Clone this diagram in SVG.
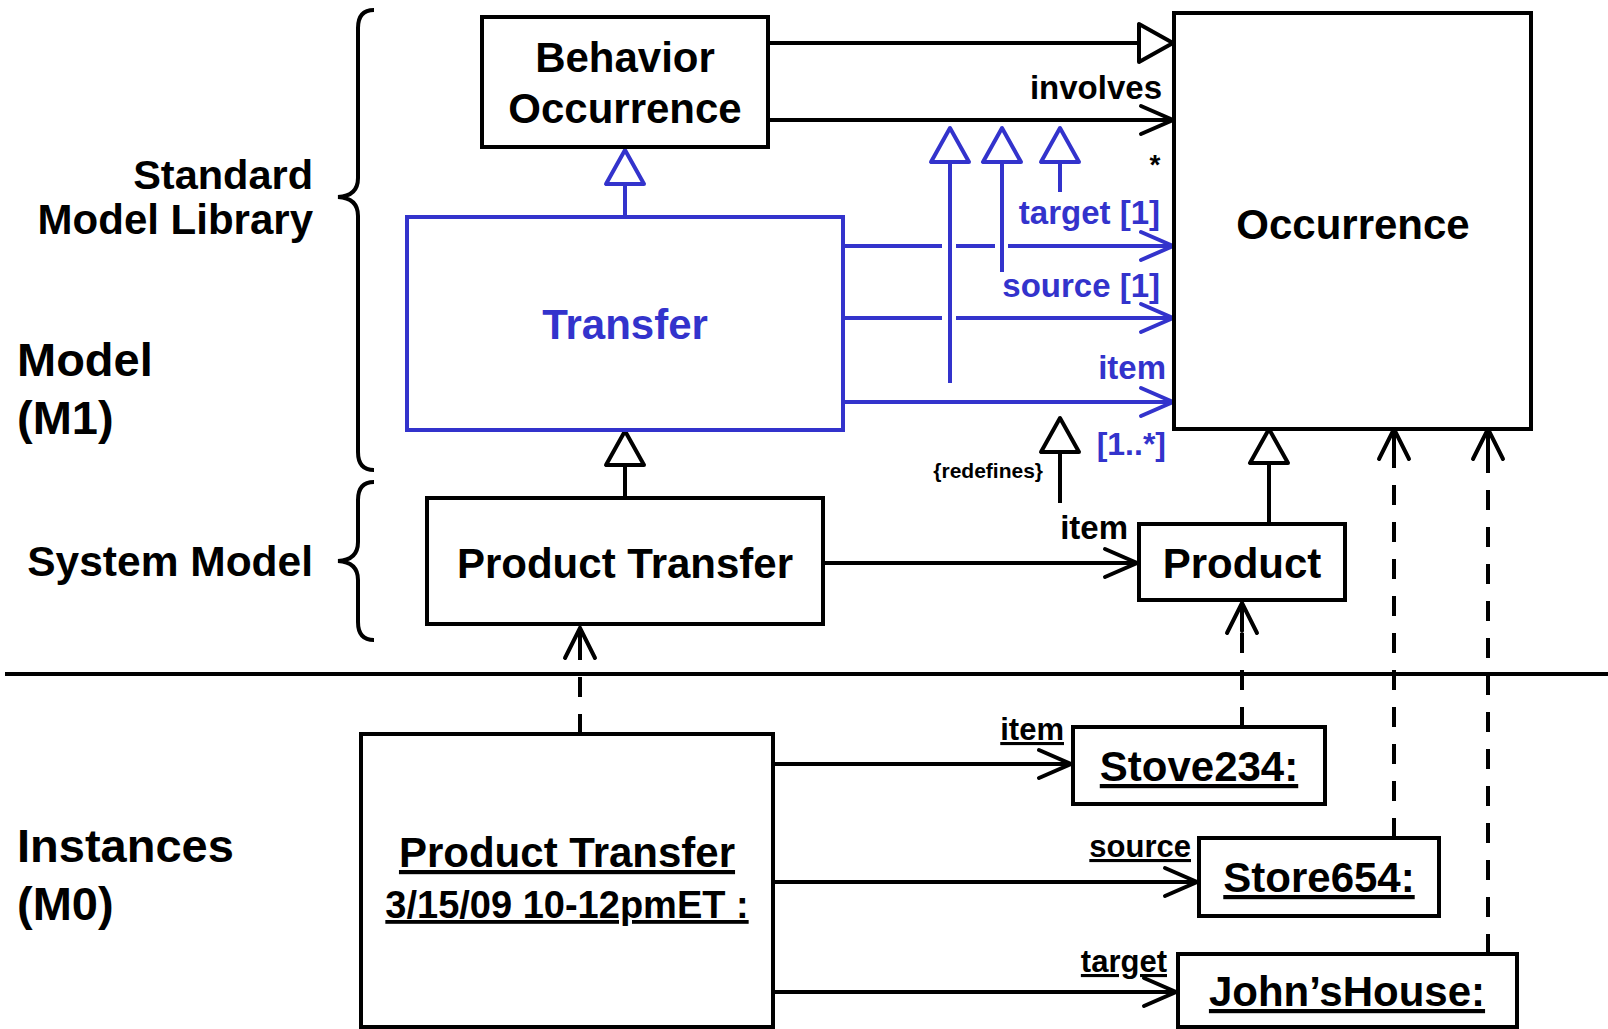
<svg xmlns="http://www.w3.org/2000/svg" width="1608" height="1029" viewBox="0 0 1608 1029">
<defs>
<style>
text{font-family:"Liberation Sans",Arial,Helvetica,sans-serif;font-weight:bold;fill:#000}
.blue{fill:#3333cc}
.box{fill:#fff;stroke:#000;stroke-width:4}
.bbox{fill:#fff;stroke:#3333cc;stroke-width:4}
.ln{fill:none;stroke:#000;stroke-width:4}
.bl{fill:none;stroke:#3333cc;stroke-width:4}
.dash{stroke-dasharray:20 17}
.u{text-decoration:underline}
.c{text-anchor:middle}
.r{text-anchor:end}
</style>
<marker id="openK" markerUnits="userSpaceOnUse" markerWidth="1" markerHeight="1" refX="0" refY="0" orient="auto" overflow="visible">
<path d="M-32,-14 L0,0 L-32,14" fill="none" stroke="#000" stroke-width="4" stroke-linecap="round"/>
</marker>
<marker id="openKs" markerUnits="userSpaceOnUse" markerWidth="1" markerHeight="1" refX="0" refY="0" orient="auto" overflow="visible">
<path d="M-30,-15 L0,0 L-30,15 M0,0 L-28,0" fill="none" stroke="#000" stroke-width="4" stroke-linecap="round"/>
</marker>
<marker id="openB" markerUnits="userSpaceOnUse" markerWidth="1" markerHeight="1" refX="0" refY="0" orient="auto" overflow="visible">
<path d="M-32,-14 L0,0 L-32,14" fill="none" stroke="#3333cc" stroke-width="4" stroke-linecap="round"/>
</marker>
<marker id="triK" markerUnits="userSpaceOnUse" markerWidth="1" markerHeight="1" refX="0" refY="0" orient="auto" overflow="visible">
<path d="M0,0 L-34,-19 L-34,19 Z" fill="#fff" stroke="#000" stroke-width="4" stroke-linejoin="round"/>
</marker>
<marker id="triB" markerUnits="userSpaceOnUse" markerWidth="1" markerHeight="1" refX="0" refY="0" orient="auto" overflow="visible">
<path d="M0,0 L-34,-19 L-34,19 Z" fill="#fff" stroke="#3333cc" stroke-width="4" stroke-linejoin="round"/>
</marker>
</defs>
<rect width="1608" height="1029" fill="#fff"/>

<g id="levels">
<text x="313" y="189" class="r" font-size="41.5">Standard</text>
<text x="313" y="234" class="r" font-size="42">Model Library</text>
<text x="17" y="376" font-size="47">Model</text>
<text x="17" y="434" font-size="47">(M1)</text>
<text x="313" y="576" class="r" font-size="42.5">System Model</text>
<text x="17" y="862" font-size="47">Instances</text>
<text x="17" y="920" font-size="47">(M0)</text>
<path class="ln" d="M374 10 Q358 10 358 28 V178 Q358 196 338 197 Q358 198 358 216 V452 Q358 470 374 470"/>
<path class="ln" d="M374 482 Q358 482 358 500 V542 Q358 560 338 561 Q358 562 358 580 V622 Q358 640 374 640"/>
<path class="ln" d="M5 674 H1608"/>
</g>

<g id="connectors">
<path class="ln" d="M768 43 H1173" marker-end="url(#triK)"/>
<path class="ln" d="M768 120 H1173" marker-end="url(#openK)"/>
<text x="1162" y="99" class="r" font-size="33">involves</text>
<text x="1155" y="174" class="c" font-size="28">*</text>
<path class="bl" d="M625 217 V150" marker-end="url(#triB)"/>
<path class="bl" d="M843 246 H942 M956 246 H995 M1008 246 H1173" marker-end="url(#openB)"/>
<text x="1160" y="224" class="r blue" font-size="33">target [1]</text>
<path class="bl" d="M843 318 H942 M956 318 H1173" marker-end="url(#openB)"/>
<text x="1160" y="297" class="r blue" font-size="33">source [1]</text>
<path class="bl" d="M843 402 H1173" marker-end="url(#openB)"/>
<text x="1166" y="379" class="r blue" font-size="33">item</text>
<text x="1166" y="455" class="r blue" font-size="32">[1..*]</text>
<path class="bl" d="M950 383 V128" marker-end="url(#triB)"/>
<path class="bl" d="M1002 272 V128" marker-end="url(#triB)"/>
<path class="bl" d="M1060 192 V128" marker-end="url(#triB)"/>
<path class="ln" d="M625 498 V431" marker-end="url(#triK)"/>
<path class="ln" d="M1060 503 V418" marker-end="url(#triK)"/>
<text x="1043" y="478" class="r" font-size="21">{redefines}</text>
<path class="ln" d="M823 563 H1137" marker-end="url(#openK)"/>
<text x="1128" y="539" class="r" font-size="33">item</text>
<path class="ln" d="M1269 524 V429" marker-end="url(#triK)"/>
<path class="ln dash" d="M580 734 V628" marker-end="url(#openKs)"/>
<path class="ln dash" d="M1242 727 V603" marker-end="url(#openKs)"/>
<path class="ln dash" d="M1394 838 V429" marker-end="url(#openKs)"/>
<path class="ln dash" d="M1488 954 V429" marker-end="url(#openKs)"/>
<path class="ln" d="M773 764 H1071" marker-end="url(#openK)"/>
<text x="1064" y="740" class="r u" font-size="31">item</text>
<path class="ln" d="M773 882 H1197" marker-end="url(#openK)"/>
<text x="1191" y="857" class="r u" font-size="31">source</text>
<path class="ln" d="M773 992 H1176" marker-end="url(#openK)"/>
<text x="1167" y="972" class="r u" font-size="31">target</text>
</g>

<g id="behavior-occurrence">
<rect class="box" x="482" y="17" width="286" height="130"/>
<text x="625" y="72" class="c" font-size="42">Behavior</text>
<text x="625" y="123" class="c" font-size="42">Occurrence</text>
</g>
<g id="occurrence">
<rect class="box" x="1174" y="13" width="357" height="416"/>
<text x="1353" y="239" class="c" font-size="42">Occurrence</text>
</g>
<g id="transfer">
<rect class="bbox" x="407" y="217" width="436" height="213"/>
<text x="625" y="339" class="c blue" font-size="42">Transfer</text>
</g>
<g id="product-transfer">
<rect class="box" x="427" y="498" width="396" height="126"/>
<text x="625" y="578" class="c" font-size="42">Product Transfer</text>
</g>
<g id="product">
<rect class="box" x="1139" y="524" width="206" height="76"/>
<text x="1242" y="578" class="c" font-size="42">Product</text>
</g>
<g id="product-transfer-instance">
<rect class="box" x="361" y="734" width="412" height="293"/>
<text x="567" y="867" class="c u" font-size="42">Product Transfer</text>
<text x="567" y="918" class="c u" font-size="38">3/15/09 10-12pmET :</text>
</g>
<g id="stove234">
<rect class="box" x="1073" y="727" width="252" height="77"/>
<text x="1199" y="781" class="c u" font-size="42">Stove234:</text>
</g>
<g id="store654">
<rect class="box" x="1199" y="838" width="240" height="78"/>
<text x="1319" y="892" class="c u" font-size="42">Store654:</text>
</g>
<g id="johns-house">
<rect class="box" x="1178" y="954" width="339" height="73"/>
<text x="1347" y="1006" class="c u" font-size="42">John’sHouse:</text>
</g>
</svg>
